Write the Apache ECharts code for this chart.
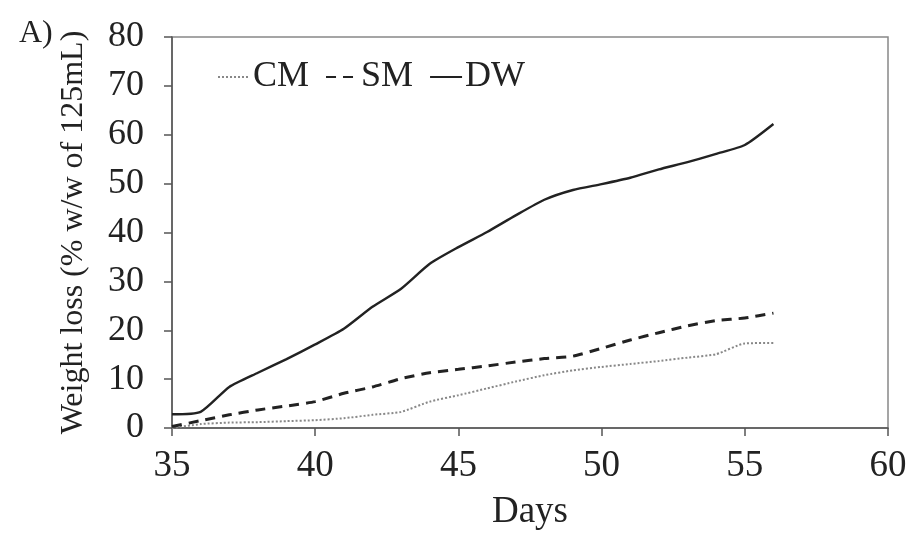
<!DOCTYPE html>
<html>
<head>
<meta charset="utf-8">
<script src="https://cdn.jsdelivr.net/npm/echarts@6/dist/echarts.min.js"></script>
<style>
  html, body { margin: 0; padding: 0; background: #fff; }
  #chart { width: 913px; height: 541px; }
</style>
</head>
<body>
<div id="chart"></div>
<script>
// days sampled
const days = [35, 36, 37, 38, 39, 40, 41, 42, 43, 44, 45, 46, 47, 48, 49, 50, 51, 52, 53, 54, 55, 56]

// weight loss (% w/w of 125mL)
const cm = [0, 0.8, 1.1, 1.2, 1.4, 1.6, 2.0, 2.7, 3.3, 5.4, 6.7, 8.1, 9.5, 10.8, 11.8, 12.5, 13.1, 13.7, 14.4, 15.1, 17.3, 17.4]
const sm = [0.3, 1.5, 2.7, 3.7, 4.5, 5.4, 7.1, 8.4, 10.1, 11.3, 12.0, 12.7, 13.5, 14.2, 14.7, 16.3, 18.0, 19.5, 20.9, 22.0, 22.5, 23.5]
const dw = [2.8, 3.3, 8.4, 11.3, 14.1, 17.1, 20.3, 24.8, 28.5, 33.6, 37.0, 40.1, 43.5, 46.7, 48.7, 49.9, 51.2, 52.9, 54.4, 56.1, 57.9, 62.2]

const pairs = vals => days.map((d, i) => [d, vals[i]])

const font = 'Liberation Serif'
const axisCol = '#555'
const txt = '#222'

const chart = echarts.init(document.getElementById('chart'))
chart.setOption({
  animation: false,
  textStyle: { fontFamily: font },
  title: {
    text: 'A)',
    left: 14,
    top: 13,
    textStyle: { fontFamily: font, fontSize: 32, fontWeight: 'normal', color: txt }
  },
  legend: {
    left: 212,
    top: 54,
    itemWidth: 32,
    itemHeight: 14,
    itemGap: 16,
    itemStyle: { opacity: 0 },
    textStyle: { fontFamily: font, fontSize: 36, color: txt, padding: [0, 0, 0, -2] },
    data: ['CM', 'SM', 'DW']
  },
  grid: {
    left: 172,
    right: 25,
    top: 37,
    bottom: 113,
    show: true,
    borderColor: '#888',
    borderWidth: 1.5
  },
  xAxis: {
    type: 'value',
    min: 35,
    max: 60,
    interval: 5,
    name: 'Days',
    nameLocation: 'middle',
    nameGap: 66,
    nameTextStyle: { fontFamily: font, fontSize: 37, color: txt },
    axisLine: { show: true, onZero: false, lineStyle: { color: axisCol, width: 1.5 } },
    axisTick: { show: true, length: 8, lineStyle: { color: axisCol, width: 1.5 } },
    axisLabel: { fontFamily: font, fontSize: 37, color: txt, margin: 20 },
    splitLine: { show: false }
  },
  yAxis: {
    type: 'value',
    min: 0,
    max: 80,
    interval: 10,
    name: 'Weight loss (% w/w of 125mL)',
    nameLocation: 'middle',
    nameGap: 82,
    nameTextStyle: { fontFamily: font, fontSize: 32, color: txt },
    axisLine: { show: true, lineStyle: { color: axisCol, width: 1.5 } },
    axisTick: { show: true, length: 8, lineStyle: { color: axisCol, width: 1.5 } },
    axisLabel: { fontFamily: font, fontSize: 36, color: txt, margin: 28 },
    splitLine: { show: false }
  },
  series: [
    {
      name: 'CM',
      type: 'line',
      data: pairs(cm),
      symbol: 'none',
      smooth: 0.2,
      color: '#888',
      lineStyle: { color: '#888', width: 2, type: [2, 2] }
    },
    {
      name: 'SM',
      type: 'line',
      data: pairs(sm),
      symbol: 'none',
      smooth: 0.2,
      color: '#222',
      lineStyle: { color: '#222', width: 3, type: [10, 7] }
    },
    {
      name: 'DW',
      type: 'line',
      data: pairs(dw),
      symbol: 'none',
      smooth: 0.2,
      color: '#222',
      lineStyle: { color: '#222', width: 2.4 }
    }
  ]
})
</script>
</body>
</html>
